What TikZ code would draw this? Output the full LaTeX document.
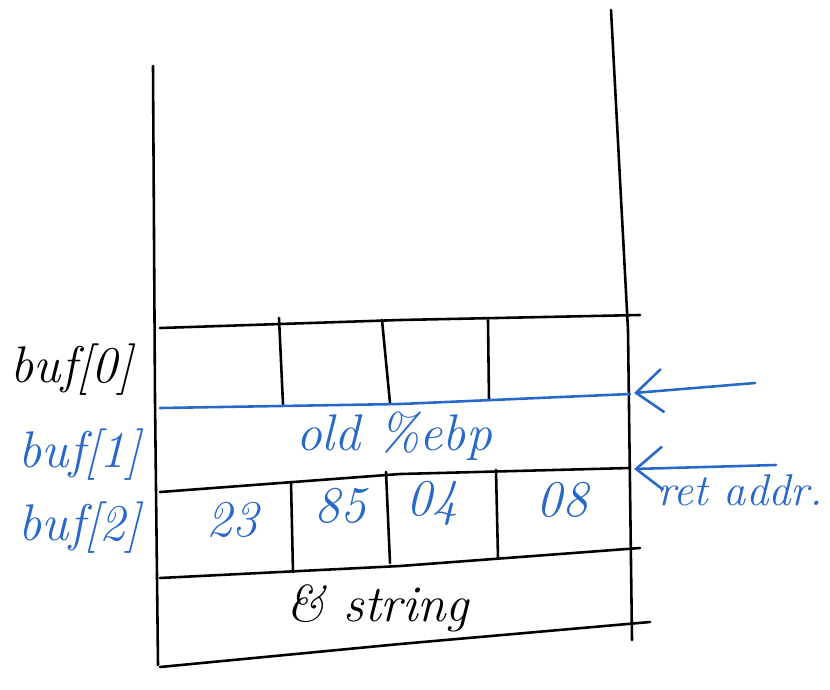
\documentclass[tikz,border=0pt]{standalone}
\usepackage{tikz}
\usetikzlibrary{calc, arrows.meta}
\usetikzlibrary{positioning}
\definecolor{penblue}{RGB}{40,104,200}

\begin{document}
\begin{tikzpicture}[x=0.03cm,y=-0.03cm,
    wall/.style={line width=2.2pt,black,line cap=round},
    blueline/.style={line width=2.2pt,penblue,line cap=round},
    hand/.style={font=\fontsize{44}{50}\selectfont\itshape},
    bluehand/.style={hand,text=penblue}]
            \useasboundingbox (0,0) rectangle (830,689);
            \draw[wall] (153,66) --(155,400) --(158,665); %左の壁
            \draw[wall] (611,10) --(628,330) --(632,640); %右の壁
            \draw[wall] (160,328) --(400,320) --(640,315); %buf[0]の上
            \draw[wall] (279,318) --(283,404);
            \draw[wall] (382,320) --(390,403);
            \draw[wall] (488,320) --(489,400);
            \draw[blueline] (160,408) --(400,404) --(630,394); %old ebpの上
            \draw[wall] (160,492) --(400,474) --(630,468); %ret addrの上
            \draw[wall] (160,578) --(400,566) --(640,548); %ret addrの下
            \draw[wall] (291,482) --(293,572);
            \draw[wall] (386,472) --(390,563);
            \draw[wall] (496,470) --(498,558);
            \draw[wall] (160,667) --(400,644) --(650,622); %底
            % 矢印
            \coordinate (ebptail) at (755,383);
            \coordinate (ebphead) at (634,393);
            \coordinate (rettail) at (776,465);
            \coordinate (rethead) at (634,469);
            \draw[-{Straight Barb[length=8mm,width=13mm]},blueline] (ebptail) --(ebphead);
            \draw[-{Straight Barb[length=8mm,width=13mm]},blueline] (rettail) --(rethead);
            % 文字
            \node[hand] (buf0) at (72,370) {buf[0]};
            \node[bluehand] (buf1) at (80,455) {buf[1]};
            \node[bluehand] (buf2) at (80,528) {buf[2]};
            \node[bluehand] (oldebp) at (394,436) {old \%ebp};
            \node[bluehand] (b23) at (232,520) {23};
            \node[bluehand] (b85) at (340,506) {85};
            \node[bluehand] (b04) at (432,503) {04};
            \node[bluehand] (b08) at (562,500) {08};
            \node[bluehand,font=\fontsize{38}{44}\selectfont\itshape] (retaddr) at (740,490) {ret addr.};
            \node[hand] (str) at (378,608) {\& string};
        \end{tikzpicture}
\end{document}
